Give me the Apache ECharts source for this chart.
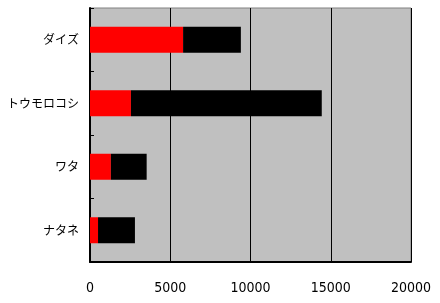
<!DOCTYPE html>
<html><head><meta charset="utf-8">
<script src="https://cdn.jsdelivr.net/npm/echarts@6/dist/echarts.min.js"></script>
<style>html,body{margin:0;padding:0;background:#fff}#c{width:440px;height:303px}</style>
</head><body><div id="c"></div>
<script>
var categories = ['ダイズ', 'トウモロコシ', 'ワタ', 'ナタネ'];
var redValues = [5800, 2550, 1300, 500];
var blackValues = [3600, 11890, 2230, 2300];
var xTicks = [0, 5000, 10000, 15000, 20000];

var chart = echarts.init(document.getElementById('c'));
chart.setOption({
  animation: false,
  grid: {left: 90, right: 29, top: 8, bottom: 41, show: true, backgroundColor: '#C0C0C0', borderColor: '#808080', borderWidth: 1},
  xAxis: {
    type: 'value', min: xTicks[0], max: xTicks[xTicks.length - 1], interval: 5000,
    axisLine: {show: true, lineStyle: {color: '#000', width: 2}},
    axisTick: {show: false},
    splitLine: {show: true, lineStyle: {color: '#000', width: 1}},
    axisLabel: {color: '#000', fontSize: 14, fontFamily: '"Liberation Sans Narrow", "DejaVu Sans Condensed", sans-serif', margin: 19,
      formatter: function (v) { return String(v); }}
  },
  yAxis: {
    type: 'category', data: categories, inverse: true,
    axisLine: {show: true, onZero: false, lineStyle: {color: '#000', width: 2}},
    axisTick: {show: true, inside: true, length: 4, lineStyle: {color: '#000'}},
    axisLabel: {color: '#000', fontSize: 12, fontFamily: '"Noto Sans CJK JP", sans-serif', margin: 11}
  },
  series: [
    {type: 'bar', stack: 's', data: redValues, barWidth: 26, itemStyle: {color: '#FF0000'}},
    {type: 'bar', stack: 's', data: blackValues, barWidth: 26, itemStyle: {color: '#000000'}}
  ]
});
</script></body></html>
